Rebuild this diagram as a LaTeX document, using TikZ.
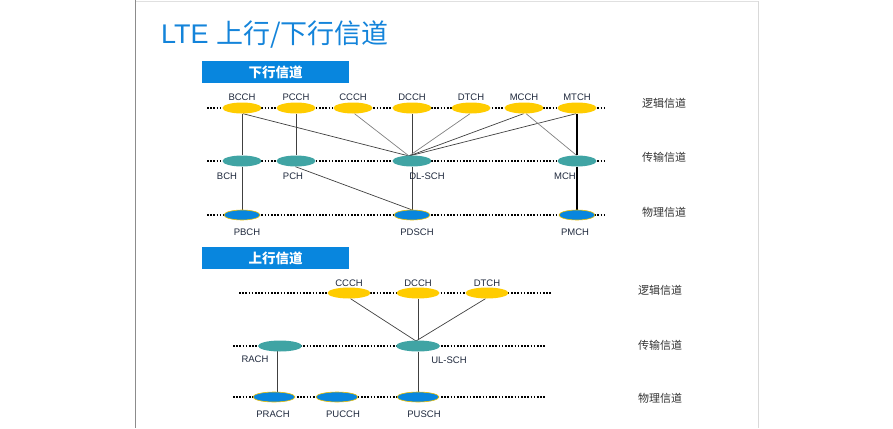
\documentclass[tikz,border=0pt]{standalone}
\usepackage{fontspec}
\setmainfont{Liberation Sans}
\newfontfamily\cjk{Noto Sans CJK SC}
\usetikzlibrary{shapes.geometric,backgrounds}
\definecolor{titleblue}{RGB}{20,132,218}
\definecolor{barblue}{RGB}{8,134,222}
\definecolor{lgold}{RGB}{255,204,0}
\definecolor{tteal}{RGB}{64,164,164}
\definecolor{pblue}{RGB}{8,134,222}
\definecolor{pedge}{RGB}{235,190,0}
\definecolor{lbl}{RGB}{30,40,60}
\begin{document}
\begin{tikzpicture}[x=1pt,y=-1pt,
  chan/.style={ellipse,inner sep=0pt,minimum width=39pt,minimum height=11pt},
  logi/.style={chan,fill=lgold},
  trans/.style={chan,fill=tteal},
  phys/.style={chan,fill=pblue,draw=pedge,line width=0.6pt,minimum height=10pt,minimum width=36pt},
  lab/.style={font=\fontsize{9.5}{10}\selectfont,text=lbl,inner sep=0pt},
  side/.style={font=\cjk\fontsize{11}{12}\selectfont,text=black!80,inner sep=0pt},
  bar/.style={fill=barblue,text=white,font=\cjk\bfseries\fontsize{13.5}{14}\selectfont,minimum width=147pt,minimum height=22pt,inner sep=0pt},
  dots/.style={draw=black,line width=1.8pt,dash pattern=on 1.6pt off 1.6pt},
  link/.style={draw=black!75,line width=0.7pt},
  linkl/.style={draw=black!50,line width=0.7pt},
  linkb/.style={draw=black,line width=1.3pt}]
\useasboundingbox (0,0) rectangle (893,428);
% slide frame
\draw[black!12,line width=1pt] (135.5,1.5) -- (758,1.5);
\draw[black!15,line width=1pt] (758,1.5) -- (758,428);
\draw[black!45,line width=1.5pt] (135.5,0) -- (135.5,428);
% title
\node[anchor=west,inner sep=0pt,text=titleblue,font=\fontsize{27}{28}\selectfont] (title) at (161,35) {LTE {\cjk 上行/下行信道}};
% headers
\node[bar] (hdl) at (275.5,72) {下行信道};
\node[bar] (hul) at (275.5,258) {上行信道};

% ---------- downlink ----------
\node[logi] (bcch) at (242,108) {};
\node[logi] (pcch) at (296,108) {};
\node[logi] (ccch) at (353,108) {};
\node[logi] (dcch) at (412,108) {};
\node[logi] (dtch) at (471,108) {};
\node[logi] (mcch) at (524,108) {};
\node[logi] (mtch) at (577,108) {};
\node[trans] (bch) at (242,161) {};
\node[trans] (pch) at (296,161) {};
\node[trans] (dlsch) at (412,161) {};
\node[trans] (mch) at (577,161) {};
\node[phys] (pbch) at (242,215) {};
\node[phys] (pdsch) at (412,215) {};
\node[phys] (pmch) at (577,215) {};
\coordinate (dltop) at (409,156);

\node[lab] (lbcch) at (242,97) {BCCH};
\node[lab] (lpcch) at (296,97) {PCCH};
\node[lab] (lccch) at (353,97) {CCCH};
\node[lab] (ldcch) at (412,97) {DCCH};
\node[lab] (ldtch) at (471,97) {DTCH};
\node[lab] (lmcch) at (524,97) {MCCH};
\node[lab] (lmtch) at (577,97) {MTCH};
\node[lab] (lbch) at (227,176) {BCH};
\node[lab] (lpch) at (293,176) {PCH};
\node[lab] (ldlsch) at (427,176) {DL-SCH};
\node[lab] (lmch) at (565,176) {MCH};
\node[lab] (lpbch) at (247,232) {PBCH};
\node[lab] (lpdsch) at (417,232) {PDSCH};
\node[lab] (lpmch) at (575,232) {PMCH};

\node[side] (s1) at (664,103) {逻辑信道};
\node[side] (s2) at (664,157) {传输信道};
\node[side] (s3) at (664,212) {物理信道};

% ---------- uplink ----------
\node[logi,minimum width=43pt] (uccch) at (349,293) {};
\node[logi,minimum width=43pt] (udcch) at (418,293) {};
\node[logi,minimum width=43pt] (udtch) at (487,293) {};
\node[trans,minimum width=44pt] (rach) at (280,346) {};
\node[trans,minimum width=44pt] (ulsch) at (418,346) {};
\node[phys,minimum width=42pt] (prach) at (274,397) {};
\node[phys,minimum width=42pt] (pucch) at (337,397) {};
\node[phys,minimum width=42pt] (pusch) at (418,397) {};
\coordinate (ultop) at (416,341);

\node[lab] (luccch) at (349,283) {CCCH};
\node[lab] (ludcch) at (418,283) {DCCH};
\node[lab] (ludtch) at (487,283) {DTCH};
\node[lab] (lrach) at (255,359) {RACH};
\node[lab] (lulsch) at (449,360) {UL-SCH};
\node[lab] (lprach) at (273,414) {PRACH};
\node[lab] (lpucch) at (343,414) {PUCCH};
\node[lab] (lpusch) at (424,414) {PUSCH};

\node[side] (s4) at (660,290) {逻辑信道};
\node[side] (s5) at (660,345) {传输信道};
\node[side] (s6) at (660,398) {物理信道};

\begin{pgfonlayer}{background}
% dotted lines
\draw[dots] (207,108) -- (605,108);
\draw[dots] (207,161) -- (605,161);
\draw[dots] (207,215) -- (605,215);
\draw[dots] (239,293) -- (551,293);
\draw[dots] (233,346) -- (545,346);
\draw[dots] (233,397) -- (545,397);
% downlink connectors
\draw[link] (bcch) -- (bch);
\draw[link] (bch) -- (pbch);
\draw[link] (pcch) -- (pch);
\draw[link] (bcch.-80) -- (dltop);
\draw[linkl] (ccch.-75) -- (dltop);
\draw[link] (dcch) -- (dlsch);
\draw[link] (dlsch) -- (pdsch);
\draw[linkl] (dtch.-100) -- (dltop);
\draw[link] (mcch.-95) -- (dltop);
\draw[link] (mtch.-100) -- (dltop);
\draw[linkl] (mcch.-70) -- (mch.95);
\draw[linkb] (mtch) -- (mch);
\draw[linkb] (mch) -- (pmch);
\draw[link] (pch.-95) -- (pdsch.95);
% uplink connectors
\draw[link] (uccch.-75) -- (ultop);
\draw[link] (udcch) -- (ulsch);
\draw[link] (udtch.-105) -- (ultop);
\draw[link] ([xshift=-3pt]rach.center) -- ([xshift=3pt]prach.center);
\draw[link] (ulsch) -- (pusch);
\end{pgfonlayer}
\end{tikzpicture}
\end{document}
